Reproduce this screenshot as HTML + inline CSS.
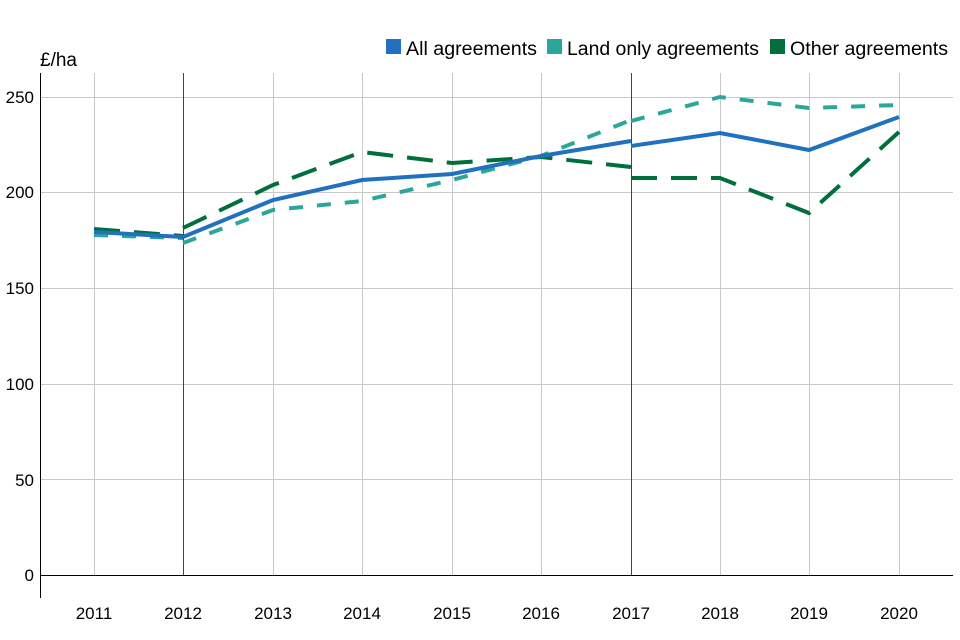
<!DOCTYPE html>
<html><head><style>body{margin:0;background:#fff}svg{display:block;font-family:"Liberation Sans",sans-serif}</style></head><body>
<svg width="960" height="640" viewBox="0 0 960 640">
<g stroke="#c8c8c8" stroke-width="1">
<line x1="40" x2="953" y1="97.5" y2="97.5"/><line x1="40" x2="953" y1="192.5" y2="192.5"/><line x1="40" x2="953" y1="288.5" y2="288.5"/><line x1="40" x2="953" y1="384.5" y2="384.5"/><line x1="40" x2="953" y1="479.5" y2="479.5"/>
<line x1="94.5" x2="94.5" y1="73" y2="575"/><line x1="273.5" x2="273.5" y1="73" y2="575"/><line x1="362.5" x2="362.5" y1="73" y2="575"/><line x1="452.5" x2="452.5" y1="73" y2="575"/><line x1="541.5" x2="541.5" y1="73" y2="575"/><line x1="720.5" x2="720.5" y1="73" y2="575"/><line x1="809.5" x2="809.5" y1="73" y2="575"/><line x1="899.5" x2="899.5" y1="73" y2="575"/>
</g>
<line x1="183.5" x2="183.5" y1="73" y2="575" stroke="#444"/>
<line x1="631.5" x2="631.5" y1="73" y2="575" stroke="#444"/>
<line x1="40.5" x2="40.5" y1="73" y2="598" stroke="#000"/>
<line x1="40" x2="953" y1="575.5" y2="575.5" stroke="#000"/>
<g font-size="17" fill="#000" text-anchor="end">
<text x="34" y="103">250</text><text x="34" y="198">200</text><text x="34" y="294">150</text><text x="34" y="390">100</text><text x="34" y="486">50</text><text x="34" y="581">0</text>
</g>
<g font-size="17" fill="#000" text-anchor="middle">
<text x="94" y="619">2011</text><text x="183" y="619">2012</text><text x="273" y="619">2013</text><text x="362" y="619">2014</text><text x="452" y="619">2015</text><text x="541" y="619">2016</text><text x="631" y="619">2017</text><text x="720" y="619">2018</text><text x="809" y="619">2019</text><text x="899" y="619">2020</text>
</g>
<text x="40" y="66" font-size="19">£/ha</text>
<g fill="none" stroke-width="4">
<g stroke="#2ba69a" stroke-dasharray="14,14">
<polyline points="94,235 183,238"/>
<polyline points="183,243 273,210 362,201 452,180 541,156 631,120"/>
<polyline points="631,121 720,97 809,108 899,105"/>
</g>
<g stroke="#006f3c" stroke-dasharray="26,14">
<polyline points="94,229 183,236"/>
<polyline points="183,228 273,185 362,152 452,163 541,157 631,167"/>
<polyline points="631,178 720,178 809,213 899,132"/>
</g>
<g stroke="#2171bf">
<polyline points="94,232 183,237"/>
<polyline points="183,237 273,200 362,180 452,174 541,156 631,141"/>
<polyline points="631,146 720,133 809,150 899,117"/>
</g>
</g>
<g font-size="19" fill="#000">
<rect x="386" y="39" width="15" height="15" fill="#2171bf"/><text x="406" y="55" textLength="131" lengthAdjust="spacingAndGlyphs">All agreements</text>
<rect x="547" y="39" width="15" height="15" fill="#2ba69a"/><text x="567" y="55" textLength="192" lengthAdjust="spacingAndGlyphs">Land only agreements</text>
<rect x="770" y="39" width="15" height="15" fill="#006f3c"/><text x="790" y="55" textLength="158" lengthAdjust="spacingAndGlyphs">Other agreements</text>
</g>
</svg>
</body></html>
